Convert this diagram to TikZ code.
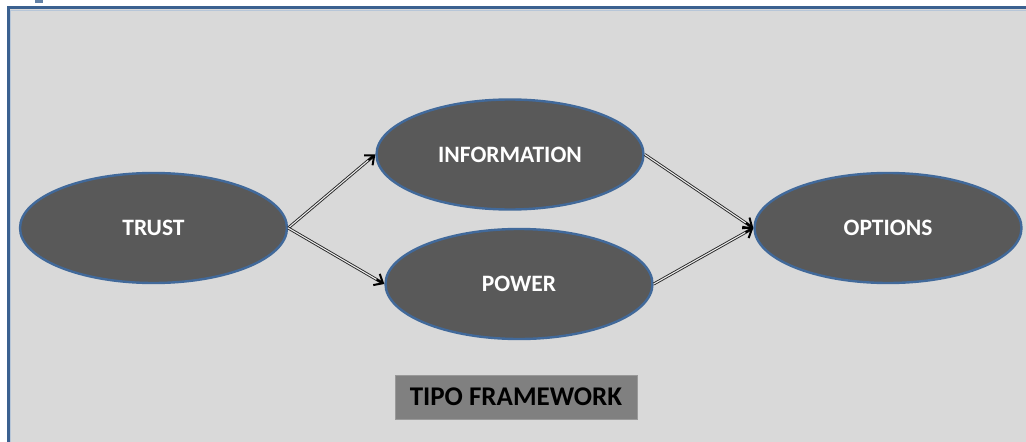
\documentclass[tikz,border=0pt]{standalone}
\usepackage{fontspec}
\setmainfont{Carlito}
\usetikzlibrary{shapes.geometric,arrows.meta,calc}
\definecolor{bgcol}{HTML}{D9D9D9}
\definecolor{framecol}{HTML}{3B6190}
\definecolor{framelight}{HTML}{B7C6D8}
\definecolor{ellfill}{HTML}{595959}
\definecolor{elledge}{HTML}{41699A}
\definecolor{labelbox}{HTML}{808080}
\tikzset{
  ell/.style={ellipse, fill=ellfill, draw=elledge, line width=2.4pt, inner sep=0pt,
    minimum width=267pt, minimum height=110pt, text=white,
    font=\fontsize{23.5}{28}\selectfont\bfseries},
  shaft/.style={draw=black!85, line width=0.9pt, double=white!92!black, double distance=1.1pt, shorten >=2.5pt},
  tip/.style={-{Straight Barb[length=7.5pt,width=13pt]}, line width=2pt, black},
  tagbox/.style={fill=labelbox, draw=black!40, line width=0.5pt, inner sep=0pt,
    minimum width=242pt, minimum height=44pt,
    font=\fontsize{27}{32}\selectfont\bfseries}
}
\begin{document}
\begin{tikzpicture}[x=1pt,y=-1pt]
\useasboundingbox (0,0) rectangle (1026,442);
% background panel
\fill[bgcol] (8,7.5) rectangle (1026,442);
\draw[framelight, line width=1pt] (10.8,442) -- (10.8,10.3) -- (1026,10.3);
\draw[framecol, line width=3pt] (8.5,442) -- (8.5,7.5) -- (1026,7.5);
\fill[framecol!80!white] (35,0) rectangle (43,3);
% nodes
\node[ell] (trust) at (153.5,228) {TRUST};
\node[ell] (info) at (510,154.5) {INFORMATION};
\node[ell] (power) at (519,284) {POWER};
\node[ell] (options) at (888,228) {OPTIONS};
\node[tagbox] (tag) at (516,397) {TIPO FRAMEWORK};
% connectors
\draw[shaft] (trust.east) -- (info.west);
\draw[tip] ($(info.west)!9pt!(trust.east)$) -- (info.west);
\draw[shaft] (trust.east) -- (power.west);
\draw[tip] ($(power.west)!9pt!(trust.east)$) -- (power.west);
\draw[shaft] (info.east) -- (options.west);
\draw[tip] ($(options.west)!9pt!(info.east)$) -- (options.west);
\draw[shaft] (power.east) -- (options.west);
\draw[tip] ($(options.west)!9pt!(power.east)$) -- (options.west);
\end{tikzpicture}
\end{document}
